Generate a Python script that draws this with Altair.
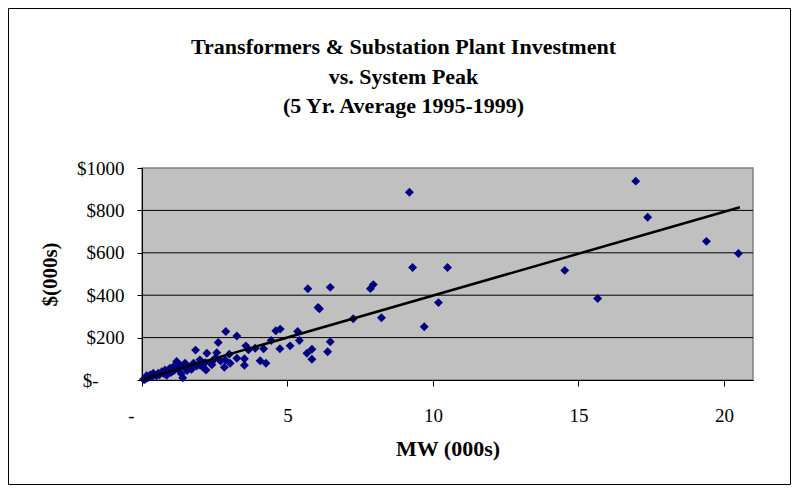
import altair as alt
import pandas as pd

# MW (000s) and $ (000s)
mw = [9.19, 9.30, 10.50, 7.95, 7.85, 7.26, 8.23, 9.70, 10.19,
      16.97, 17.38, 19.40, 20.50, 14.53, 15.66,
      5.70, 6.47, 6.10, 6.05, 2.88, 3.26, 2.62, 1.84, 4.60, 4.75,
      5.35, 5.41, 5.09, 6.47, 6.38, 5.84, 5.67, 5.84, 4.74, 4.44,
      4.18, 4.26, 4.06, 3.57, 3.89, 3.66, 3.52, 3.52, 3.26, 3.00,
      2.86, 2.83, 3.03, 2.57, 2.51, 2.23, 2.17, 2.20, 1.99, 1.88,
      1.77, 1.40, 1.48, 1.31, 1.19, 1.08, 0.96, 0.79, 0.68, 0.56,
      0.39, 0.28, 0.16, 0.05, 0.10,
      0.20, 0.35, 0.50, 0.60, 0.75, 0.90, 1.00, 1.10, 1.25, 1.35,
      1.50, 1.60, 1.70, 2.00, 2.10, 2.40, 2.70, 2.40, 1.55, 0.85]
invest = [886, 531, 531, 450, 431, 289, 294, 251, 365,
          938, 768, 654, 597, 517, 384,
          430, 437, 336, 342, 229, 208, 177, 141, 232, 240,
          229, 186, 161, 180, 133, 145, 126, 98, 147, 186,
          147, 79, 91, 161, 150, 142, 100, 70, 103, 122,
          95, 60, 79, 129, 103, 126, 82, 47, 95, 66,
          79, 11, 79, 71, 87, 63, 55, 47, 39, 32,
          32, 24, 20, 3, 2,
          10, 15, 20, 25, 30, 40, 35, 45, 50, 30,
          55, 60, 50, 70, 60, 85, 90, 72, 45, 22]

trend_x = [0.0, 20.55]
trend_y = [3, 815]

grid_values = [200, 400, 600, 800]

title_lines = ["Transformers & Substation Plant Investment",
               "vs. System Peak",
               "(5 Yr. Average 1995-1999)"]

pts = pd.DataFrame({"mw": mw, "inv": invest})
trend = pd.DataFrame({"mw": trend_x, "inv": trend_y})

SERIF = "Liberation Serif"

xscale = alt.Scale(domain=[0, 21], nice=False, zero=True)
yscale = alt.Scale(domain=[0, 1000], nice=False)

xaxis = alt.Axis(values=[0, 5, 10, 15, 20], title="MW (000s)",
                 labelExpr="datum.value == 0 ? '-' : datum.label",
                 labelFlush=False,
                 labelOffset={"condition": {"test": "datum.value == 0", "value": -11}, "value": 0},
                 labelFont=SERIF, labelFontSize=19, labelColor="black",
                 labelPadding=20, tickSize=6, tickColor="black",
                 domainColor="black", grid=False,
                 titleFont=SERIF, titleFontSize=22, titleFontWeight="bold",
                 titleColor="black", titlePadding=13)
yaxis = alt.Axis(values=[0, 200, 400, 600, 800, 1000], title="$(000s)",
                 labelExpr="datum.value == 0 ? '$-' : '$' + datum.value",
                 labelPadding={"condition": {"test": "datum.value == 0", "value": 39}, "value": 13},
                 labelFont=SERIF, labelFontSize=19, labelColor="black",
                 tickSize=5, tickColor="black",
                 domainColor="black", grid=False,
                 titleFont=SERIF, titleFontSize=21, titleFontWeight="bold",
                 titleColor="black", titlePadding=16)

grid = alt.Chart(pd.DataFrame({"inv": grid_values})).mark_rule(
    color="black", strokeWidth=1).encode(y=alt.Y("inv:Q", scale=yscale, axis=yaxis))

points = alt.Chart(pts).mark_point(shape="diamond", filled=True, color="#000080",
                                   size=80, opacity=1).encode(
    x=alt.X("mw:Q", scale=xscale, axis=xaxis),
    y=alt.Y("inv:Q", scale=yscale, axis=yaxis),
)

line = alt.Chart(trend).mark_line(color="black", strokeWidth=2.5).encode(
    x=alt.X("mw:Q", scale=xscale),
    y=alt.Y("inv:Q", scale=yscale),
)

one = pd.DataFrame({"a": [0]})

frame = alt.Chart(one).mark_rect(
    fill=None, stroke="black", strokeWidth=1, clip=False).encode(
    x=alt.value(-133.5), x2=alt.value(648.5), y=alt.value(-159.5), y2=alt.value(316.5))

title_layers = []
for i, t in enumerate(title_lines):
    title_layers.append(
        alt.Chart(one).mark_text(font=SERIF, fontSize=22, fontWeight="bold",
                                 color="black", align="center",
                                 baseline="alphabetic").encode(
            x=alt.value(261.5), y=alt.value(-114 + 29.5 * i), text=alt.value(t))
    )

chart = alt.layer(grid, points, line, frame, *title_layers).properties(
    width=611, height=212,
    padding={"left": 134, "top": 160, "right": 39, "bottom": 105},
    autosize=alt.AutoSizeParams(type="none"),
    background="white",
).configure_view(fill="#C0C0C0", stroke="#808080", strokeWidth=1.5)

chart.save("out.html", embed_options={"renderer": "svg", "actions": False})
